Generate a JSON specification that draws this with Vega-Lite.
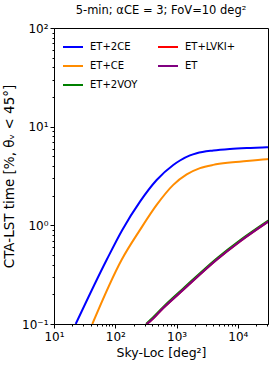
{
  "$schema": "https://vega.github.io/schema/vega-lite/v6.json",
  "width": 214,
  "height": 296,
  "autosize": {"type": "none"},
  "padding": {"left": 54, "top": 28, "right": 6, "bottom": 58},
  "background": "white",
  "config": {
    "font": "DejaVu Sans",
    "view": {"stroke": "black", "strokeWidth": 1},
    "axis": {"domainColor": "black", "tickColor": "black", "labelColor": "black", "titleColor": "black", "grid": false, "titleFontWeight": "normal", "labelFont": "DejaVu Sans", "titleFont": "DejaVu Sans"}
  },
  "title": {"text": "5-min; αCE = 3; FoV=10 deg²", "fontSize": 11.5, "fontWeight": "normal", "font": "DejaVu Sans", "color": "black", "offset": 6, "anchor": "middle"},
  "data": {"values": [
    {"s": "ET+2CE", "x": 22.6, "y": 0.1},
    {"s": "ET+2CE", "x": 72.4, "y": 0.448},
    {"s": "ET+2CE", "x": 130, "y": 0.899},
    {"s": "ET+2CE", "x": 253, "y": 1.74},
    {"s": "ET+2CE", "x": 473, "y": 2.88},
    {"s": "ET+2CE", "x": 883, "y": 4.09},
    {"s": "ET+2CE", "x": 1135, "y": 4.54},
    {"s": "ET+2CE", "x": 1654, "y": 5.11},
    {"s": "ET+2CE", "x": 2128, "y": 5.38},
    {"s": "ET+2CE", "x": 3970, "y": 5.74},
    {"s": "ET+2CE", "x": 7430, "y": 5.95},
    {"s": "ET+2CE", "x": 13930, "y": 6.08},
    {"s": "ET+2CE", "x": 29510, "y": 6.18},
    {"s": "ET+2CE", "x": 31000, "y": 6.19},
    {"s": "ET+CE", "x": 42.2, "y": 0.1},
    {"s": "ET+CE", "x": 127, "y": 0.448},
    {"s": "ET+CE", "x": 253, "y": 0.899},
    {"s": "ET+CE", "x": 473, "y": 1.61},
    {"s": "ET+CE", "x": 883, "y": 2.57},
    {"s": "ET+CE", "x": 1462, "y": 3.28},
    {"s": "ET+CE", "x": 2410, "y": 3.8},
    {"s": "ET+CE", "x": 3970, "y": 4.1},
    {"s": "ET+CE", "x": 7430, "y": 4.33},
    {"s": "ET+CE", "x": 13930, "y": 4.5},
    {"s": "ET+CE", "x": 29510, "y": 4.68},
    {"s": "ET+CE", "x": 31000, "y": 4.69},
    {"s": "ET+2VOY", "x": 318, "y": 0.1},
    {"s": "ET+2VOY", "x": 368, "y": 0.109},
    {"s": "ET+2VOY", "x": 607, "y": 0.149},
    {"s": "ET+2VOY", "x": 1285, "y": 0.229},
    {"s": "ET+2VOY", "x": 4508, "y": 0.462},
    {"s": "ET+2VOY", "x": 10810, "y": 0.707},
    {"s": "ET+2VOY", "x": 31300, "y": 1.12},
    {"s": "ET+LVKI+", "x": 325, "y": 0.1},
    {"s": "ET+LVKI+", "x": 368, "y": 0.106},
    {"s": "ET+LVKI+", "x": 607, "y": 0.145},
    {"s": "ET+LVKI+", "x": 1285, "y": 0.222},
    {"s": "ET+LVKI+", "x": 4508, "y": 0.448},
    {"s": "ET+LVKI+", "x": 10810, "y": 0.686},
    {"s": "ET+LVKI+", "x": 31300, "y": 1.09},
    {"s": "ET", "x": 325, "y": 0.1},
    {"s": "ET", "x": 368, "y": 0.106},
    {"s": "ET", "x": 607, "y": 0.145},
    {"s": "ET", "x": 1285, "y": 0.222},
    {"s": "ET", "x": 4508, "y": 0.448},
    {"s": "ET", "x": 10810, "y": 0.686},
    {"s": "ET", "x": 31300, "y": 1.09}
  ]},
  "mark": {"type": "line", "strokeWidth": 2, "clip": true, "interpolate": "monotone"},
  "encoding": {
    "x": {"field": "x", "type": "quantitative",
      "scale": {"type": "log", "domain": [10, 31000], "nice": false},
      "axis": {"title": "Sky-Loc [deg²]", "titleFontSize": 12.5, "labelFontSize": 12, "titlePadding": 4,
        "values": [10, 20, 30, 40, 50, 60, 70, 80, 90, 100, 200, 300, 400, 500, 600, 700, 800, 900, 1000, 2000, 3000, 4000, 5000, 6000, 7000, 8000, 9000, 10000, 20000, 30000],
        "labelExpr": "datum.value == 10 ? '10¹' : datum.value == 100 ? '10²' : datum.value == 1000 ? '10³' : datum.value == 10000 ? '10⁴' : ''",
        "tickSize": {"condition": {"test": "datum.value == 10 || datum.value == 100 || datum.value == 1000 || datum.value == 10000", "value": 4}, "value": 2},
        "labelPadding": 3, "labelFlush": false, "labelOverlap": false}},
    "y": {"field": "y", "type": "quantitative",
      "scale": {"type": "log", "domain": [0.1, 100], "nice": false},
      "axis": {"title": "CTA-LST time [%, θᵥ < 45°]", "titleFontSize": 13.5, "labelFontSize": 12, "titlePadding": 5,
        "values": [0.1, 0.2, 0.3, 0.4, 0.5, 0.6, 0.7, 0.8, 0.9, 1, 2, 3, 4, 5, 6, 7, 8, 9, 10, 20, 30, 40, 50, 60, 70, 80, 90, 100],
        "labelExpr": "datum.value == 0.1 ? '10⁻¹' : datum.value == 1 ? '10⁰' : datum.value == 10 ? '10¹' : datum.value == 100 ? '10²' : ''",
        "tickSize": {"condition": {"test": "datum.value == 0.1 || datum.value == 1 || datum.value == 10 || datum.value == 100", "value": 4}, "value": 2},
        "labelPadding": 2, "labelFlush": false, "labelOverlap": false}},
    "color": {"field": "s", "type": "nominal",
      "scale": {"domain": ["ET+2CE", "ET+CE", "ET+2VOY", "ET+LVKI+", "ET"], "range": ["#0000ff", "#ff8c00", "#008000", "#ff0000", "#800080"]},
      "legend": {"title": null, "orient": "top-left", "columns": 2, "offset": 8, "padding": 0,
        "symbolType": "stroke", "symbolSize": 400, "symbolStrokeWidth": 2, "labelFontSize": 10, "labelFont": "DejaVu Sans", "labelColor": "black",
        "labelOffset": 6, "columnPadding": 16, "rowPadding": 3}}
  }
}
